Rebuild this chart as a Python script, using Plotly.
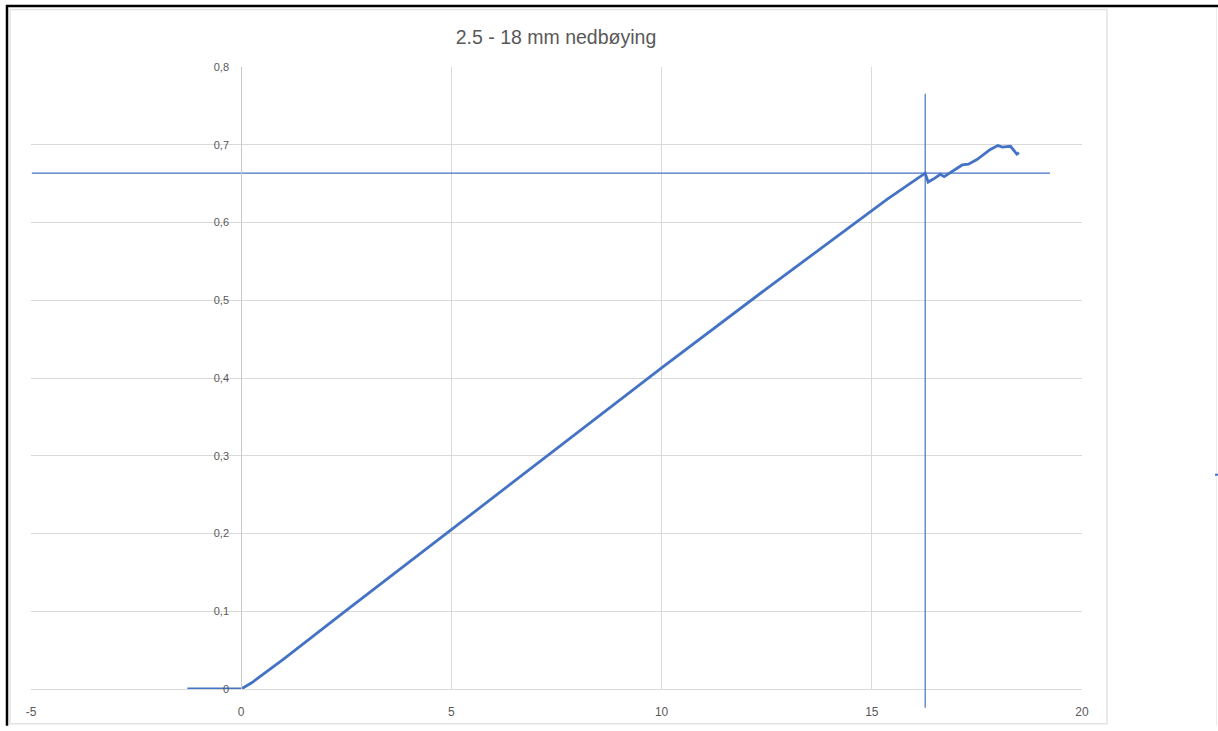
import plotly.graph_objects as go

# Load-deflection curve (deflection in mm, load)
deflection = [-1.28, 0.0, 0.25, 0.5, 1.0, 2.5, 5.0, 7.5, 10.0, 12.5, 15.0, 15.37, 16.27,
              16.34, 16.5, 16.63, 16.72, 16.94, 17.15, 17.3, 17.5, 17.82, 18.0,
              18.1, 18.3, 18.45, 18.5]
load = [0.0, 0.0, 0.008, 0.018, 0.038, 0.101, 0.205, 0.31, 0.413, 0.515, 0.615, 0.630, 0.6635,
        0.652, 0.657, 0.662, 0.659, 0.667, 0.674, 0.675, 0.681, 0.694, 0.699,
        0.697, 0.698, 0.688, 0.690]

# Reference lines
ref_load = 0.6635
ref_load_x = [-4.98, 19.24]
ref_deflection = 16.27
ref_deflection_y = [-0.024, 0.7655]

x_tick_vals = [-5, 0, 5, 10, 15, 20]
x_tick_text = ["-5", "0", "5", "10", "15", "20"]
y_tick_vals = [0, 0.1, 0.2, 0.3, 0.4, 0.5, 0.6, 0.7, 0.8]
y_tick_text = ["0", "0,1", "0,2", "0,3", "0,4", "0,5", "0,6", "0,7", "0,8"]

X_RANGE = [-5, 20]
Y_RANGE = [0, 0.8]

W, H = 1218, 731
ML, MR, MT, MB = 31, 136, 67, 37
PW, PH = W - ML - MR, H - MT - MB


def px_x(p):
    return (p - ML) / PW


def px_y(p):
    return (H - MB - p) / PH


def y_paper(v):
    return (v - Y_RANGE[0]) / (Y_RANGE[1] - Y_RANGE[0])


BLUE = "#4472C4"
GRID = "#d9d9d9"
TEXT = "#595959"
FONT = "Liberation Sans"

fig = go.Figure()
fig.add_trace(go.Scatter(x=ref_load_x, y=[ref_load, ref_load], mode="lines",
                         line=dict(color=BLUE, width=1.2), hoverinfo="skip"))
fig.add_trace(go.Scatter(x=deflection, y=load, mode="lines",
                         line=dict(color=BLUE, width=2.8)))

shapes = [
    # vertical reference line (extends below the axis)
    dict(type="line", xref="x", yref="paper", x0=ref_deflection, x1=ref_deflection,
         y0=y_paper(ref_deflection_y[0]), y1=y_paper(ref_deflection_y[1]),
         line=dict(color=BLUE, width=1.2)),
    # chart area border
    dict(type="rect", xref="paper", yref="paper", x0=px_x(10), x1=px_x(1107),
         y0=px_y(729), y1=px_y(9), line=dict(color="#e3e3e3", width=1.5)),
    # outer frame
    dict(type="line", xref="paper", yref="paper", x0=px_x(6), x1=px_x(1218),
         y0=px_y(5.5), y1=px_y(5.5), line=dict(color="black", width=2.5)),
    dict(type="line", xref="paper", yref="paper", x0=px_x(7), x1=px_x(7),
         y0=px_y(4.5), y1=px_y(731), line=dict(color="black", width=2.5)),
    dict(type="line", xref="paper", yref="paper", x0=px_x(1216.5), x1=px_x(1216.5),
         y0=px_y(8), y1=px_y(731), line=dict(color="#ececec", width=1)),
    dict(type="line", xref="paper", yref="paper", x0=px_x(1215), x1=px_x(1218),
         y0=px_y(478), y1=px_y(478), line=dict(color=BLUE, width=2)),
]

fig.update_layout(
    width=W, height=H,
    margin=dict(l=ML, r=MR, t=MT, b=MB),
    paper_bgcolor="white", plot_bgcolor="white",
    showlegend=False,
    separators=", ",
    title=dict(text="2.5 - 18 mm nedbøying", x=556 / W,
               xanchor="center", y=1 - 37 / H, yanchor="middle",
               font=dict(family=FONT, size=19.5, color=TEXT)),
    font=dict(family=FONT, color=TEXT, size=12),
    shapes=shapes,
    xaxis=dict(range=X_RANGE, tickvals=x_tick_vals, ticktext=x_tick_text,
               showgrid=True, gridcolor=GRID, gridwidth=1, zeroline=False,
               showline=True, linecolor=GRID, linewidth=1, ticks="",
               ticklabelstandoff=12, tickfont=dict(size=12, color=TEXT)),
    yaxis=dict(range=Y_RANGE, tickvals=y_tick_vals, ticktext=y_tick_text,
               showgrid=True, gridcolor=GRID, gridwidth=1, zeroline=False,
               anchor="free", position=(0 - X_RANGE[0]) / (X_RANGE[1] - X_RANGE[0]),
               showline=True, linecolor="#c8c8c8", linewidth=1, ticks="",
               ticklabelstandoff=10, tickfont=dict(size=11, color=TEXT)),
)

fig.write_html("out.html")
